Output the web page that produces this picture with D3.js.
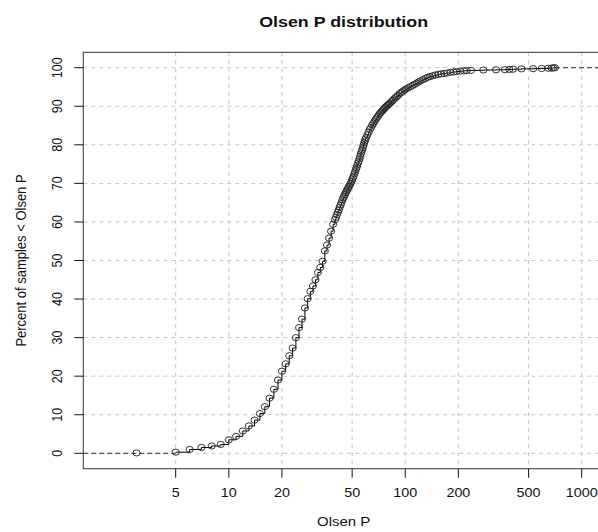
<html>
<head>
<script src="https://cdn.jsdelivr.net/npm/d3@7"></script>
<style>
  body { margin: 0; background: #fff; }
  text { font-family: "Liberation Sans", Arial, Helvetica, sans-serif; fill: #111; }
</style>
</head>
<body>
<svg id="chart"></svg>
<script>

// ECDF knots: Olsen P value and percent of samples at or below it
let olsenP = [3, 5, 6, 7, 8, 9, 10, 11, 12, 13, 14, 15, 16, 17, 18, 19, 20, 21, 22, 23, 24, 25, 26, 27, 28, 29, 30,
    31, 32, 33, 34, 35, 36, 37, 38, 39, 40, 40.5, 41, 41.5, 42, 42.5, 43, 43.5, 44, 44.5, 45, 45.5, 46, 46.5,
    47, 47.5, 48, 48.5, 49, 49.5, 50, 50.5, 51, 51.5, 52, 52.5, 53, 53.5, 54, 54.5, 55, 55.5, 56, 56.5, 57,
    57.5, 58, 58.5, 59, 59.5, 60, 61, 62, 63, 64, 65, 66, 67, 68, 69, 70, 71, 72, 73, 74, 75, 76, 77, 78, 79,
    80, 81, 82, 83.5, 85, 86.5, 88, 89.5, 91, 93, 95, 97, 99, 101, 104, 107, 110, 113, 116, 119, 122, 126,
    130, 134, 138, 143, 148, 154, 160, 166, 172, 180, 188, 195, 205, 215, 223, 236, 277, 327, 367, 389, 408,
    456, 531, 593, 646, 675, 690, 705];

let pctBelow = [0.1, 0.3, 1.0, 1.5, 1.9, 2.3, 3.5, 4.4, 5.8, 7.1, 8.6, 10.3, 12.1, 14.3, 16.6, 19.0, 21.3, 23.2,
    25.3, 27.3, 30.0, 32.6, 34.8, 37.7, 40.1, 42.0, 43.4, 45.0, 46.9, 48.2, 49.8, 52.5, 54.0, 55.8, 57.6, 59.4,
    60.6, 61.2, 61.9, 62.5, 63.1, 63.8, 64.4, 65.0, 65.7, 66.2, 66.7, 67.1, 67.6, 68.0, 68.4, 68.8, 69.2, 69.6,
    70.0, 70.4, 70.9, 71.4, 71.9, 72.5, 73.0, 73.6, 74.1, 74.7, 75.3, 75.8, 76.4, 77.0, 77.6, 78.2, 78.7, 79.3,
    79.9, 80.5, 81.0, 81.5, 81.9, 82.6, 83.3, 84.0, 84.5, 85.1, 85.6, 86.1, 86.6, 87.0, 87.4, 87.8, 88.2, 88.5,
    88.8, 89.1, 89.4, 89.7, 89.9, 90.2, 90.4, 90.6, 90.8, 91.2, 91.5, 91.9, 92.2, 92.5, 92.8, 93.3, 93.6, 93.9,
    94.2, 94.5, 94.8, 95.1, 95.4, 95.7, 96.0, 96.3, 96.6, 96.9, 97.2, 97.5, 97.7, 97.9, 98.1, 98.3, 98.4, 98.5,
    98.6, 98.8, 98.9, 99.0, 99.1, 99.2, 99.25, 99.3, 99.4, 99.45, 99.5, 99.55, 99.6, 99.7, 99.75, 99.8, 99.85,
    99.9, 99.95, 100];

let xTicks = [5, 10, 20, 50, 100, 200, 500, 1000];
let yTicks = [0, 10, 20, 30, 40, 50, 60, 70, 80, 90, 100];

let width = 598;
let height = 532;
let sx = 1.15; // picture is a little wider than tall, text is stretched too

let svg = d3.select("#chart")
            .attr("width", width)
            .attr("height", height);

let x = d3.scaleLog()
            .domain([5, 1000])
            .range([175.7, 581.7]);

let y = d3.scaleLinear()
            .domain([0, 100])
            .range([453.3, 67.7]);

let boxLeft = 83.3, boxRight = 604;
let boxTop = y(104), boxBottom = y(-4);

let grid = svg.append("g")
            .attr("stroke", "#c4c4c4")
            .attr("stroke-dasharray", "4,4");

grid.selectAll(".gx")
    .data(xTicks)
    .enter()
    .append("line")
    .attr("x1", d => x(d)).attr("x2", d => x(d))
    .attr("y1", boxTop).attr("y2", boxBottom);

grid.selectAll(".gy")
    .data(yTicks)
    .enter()
    .append("line")
    .attr("x1", boxLeft).attr("x2", boxRight)
    .attr("y1", d => y(d)).attr("y2", d => y(d));

// dashed ends of the ecdf
svg.append("line")
    .attr("x1", boxLeft).attr("x2", x(olsenP[1]))
    .attr("y1", y(0)).attr("y2", y(0))
    .attr("stroke", "#333").attr("stroke-dasharray", "5,3");

svg.append("line")
    .attr("x1", x(olsenP[olsenP.length - 1])).attr("x2", boxRight)
    .attr("y1", y(100)).attr("y2", y(100))
    .attr("stroke", "#333").attr("stroke-dasharray", "5,3");

let knots = olsenP.map((v, i) => ({ v: v, p: pctBelow[i] }));

let step = d3.line()
            .x(d => x(d.v))
            .y(d => y(d.p))
            .curve(d3.curveStepAfter);

svg.append("path")
    .datum(knots.slice(1))
    .attr("d", step)
    .attr("fill", "none")
    .attr("stroke", "#000")
    .attr("stroke-width", 1);

svg.selectAll(".pt")
    .data(knots)
    .enter()
    .append("ellipse")
    .attr("cx", d => x(d.v))
    .attr("cy", d => y(d.p))
    .attr("rx", 3.6)
    .attr("ry", 3.1)
    .attr("fill", "none")
    .attr("stroke", "#2a2a2a")
    .attr("stroke-width", 0.95);

// box
svg.append("rect")
    .attr("x", boxLeft).attr("y", boxTop)
    .attr("width", boxRight - boxLeft).attr("height", boxBottom - boxTop)
    .attr("fill", "none")
    .attr("stroke", "#333");

// ticks
svg.selectAll(".tx")
    .data(xTicks)
    .enter()
    .append("line")
    .attr("x1", d => x(d)).attr("x2", d => x(d))
    .attr("y1", boxBottom).attr("y2", boxBottom + 9)
    .attr("stroke", "#111");

svg.selectAll(".lx")
    .data(xTicks)
    .enter()
    .append("text")
    .attr("transform", d => `translate(${x(d)}, 497) scale(${sx}, 1)`)
    .attr("text-anchor", "middle")
    .style("font-size", "12.5px")
    .text(d => d);

svg.selectAll(".ty")
    .data(yTicks)
    .enter()
    .append("line")
    .attr("x1", boxLeft - 9).attr("x2", boxLeft)
    .attr("y1", d => y(d)).attr("y2", d => y(d))
    .attr("stroke", "#111");

svg.selectAll(".ly")
    .data(yTicks)
    .enter()
    .append("text")
    .attr("transform", d => `translate(62, ${y(d)}) scale(${sx}, 1) rotate(-90)`)
    .attr("text-anchor", "middle")
    .style("font-size", "12.5px")
    .text(d => d);

// titles
svg.append("text")
    .attr("transform", `translate(${(boxLeft + boxRight) / 2}, 26.5) scale(${sx}, 1)`)
    .attr("text-anchor", "middle")
    .style("font-size", "15.5px")
    .style("font-weight", "bold")
    .text("Olsen P distribution");

svg.append("text")
    .attr("transform", `translate(${(boxLeft + boxRight) / 2}, 526) scale(${sx}, 1)`)
    .attr("text-anchor", "middle")
    .style("font-size", "13px")
    .text("Olsen P");

svg.append("text")
    .attr("transform", `translate(25.5, ${(boxTop + boxBottom) / 2}) scale(${sx}, 1) rotate(-90)`)
    .attr("text-anchor", "middle")
    .style("font-size", "13px")
    .text("Percent of samples < Olsen P");

</script>
</body>
</html>
